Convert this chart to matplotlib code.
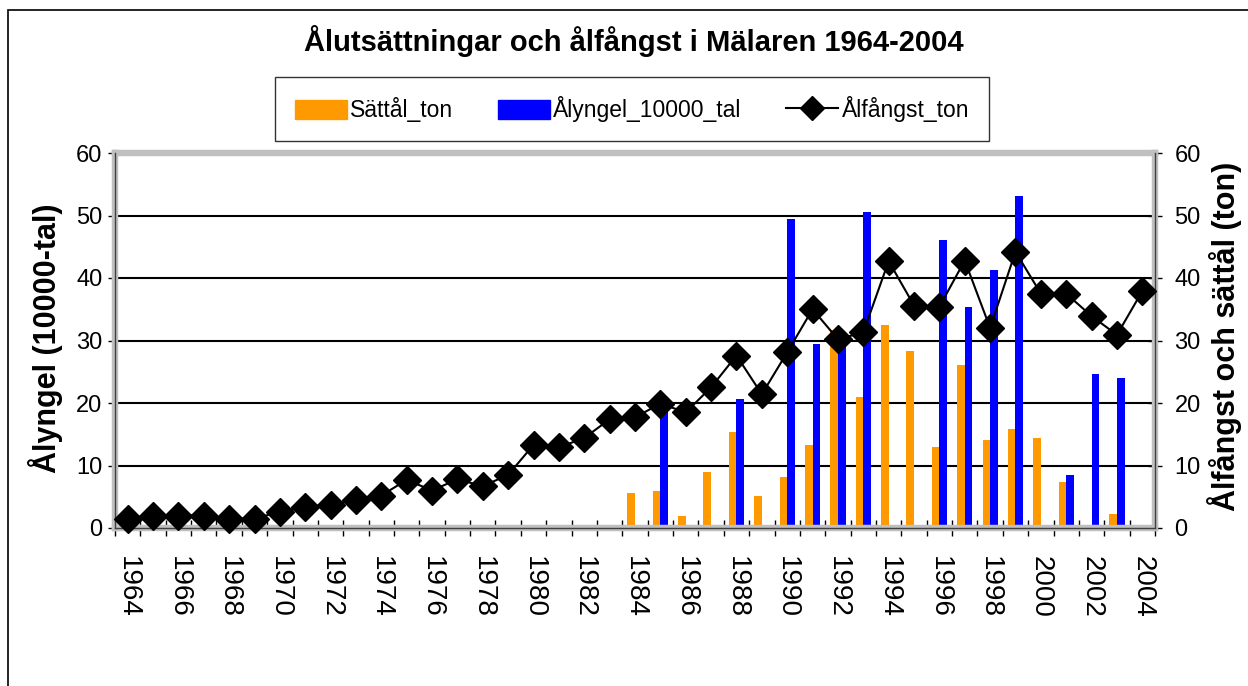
import numpy as np
import matplotlib
matplotlib.use("Agg")
import matplotlib.pyplot as plt
from matplotlib.lines import Line2D
from matplotlib.patches import Patch, Rectangle

plt.rcParams['font.family'] = ['Liberation Sans', 'DejaVu Sans']

years = list(range(1964, 2005))

# Ålfångst_ton (right axis, line)
falangst = [1.5, 2.0, 2.0, 2.0, 1.5, 1.5, 2.6, 3.4, 3.7, 4.5,
            5.2, 7.7, 6.0, 7.8, 6.7, 8.5, 13.3, 12.9, 14.4, 17.4,
            17.7, 19.9, 18.5, 22.5, 27.6, 21.4, 28.1, 35.0, 30.2, 31.3,
            42.7, 35.6, 35.4, 42.8, 32.0, 44.2, 37.5, 37.5, 33.9, 30.9,
            37.9]

# Sättål_ton (right axis, orange bars)
sattal = [0, 0, 0, 0, 0, 0, 0, 0, 0, 0,
          0, 0, 0, 0, 0, 0, 0, 0, 0, 0,
          5.65, 6.0, 2.0, 9.0, 15.3, 5.1, 8.2, 13.3, 31.7, 21.0,
          32.5, 28.4, 13.0, 26.1, 14.1, 15.8, 14.4, 7.4, 0, 2.2,
          0]

# Ålyngel_10000_tal (left axis, blue bars)
yngel = [0, 0, 0, 0, 0, 0, 0, 0, 0, 0,
         0, 0, 0, 0, 0, 0, 0, 0, 0, 0,
         0, 19.4, 0, 0, 20.6, 0, 49.5, 29.4, 30.0, 50.5,
         0, 0, 46.1, 35.4, 41.3, 53.1, 0, 8.5, 24.6, 24.0,
         0]

ORANGE = '#ff9900'
BLUE = '#0000ff'
GRAY = '#c0c0c0'
FS = 17

W, H = 1248, 686
fig = plt.figure(figsize=(W / 100, H / 100), dpi=100)

# plot area in pixels
L, R, T, B = 115, 1155, 153, 528
ax = fig.add_axes([L / W, 1 - B / H, (R - L) / W, (B - T) / H])
ax2 = ax.twinx()

x = np.arange(len(years))
bw = 0.3

ax.bar(x, yngel, width=bw, align='edge', color=BLUE, zorder=2)
ax2.bar(x - bw, sattal, width=bw, align='edge', color=ORANGE, zorder=2)
ax2.plot(x, falangst, color='black', lw=1.5, marker='D', markersize=14,
         zorder=3, clip_on=False)

for a in (ax, ax2):
    a.set_ylim(0, 60)
    a.set_xlim(-0.5, len(years) - 0.5)
    for s in a.spines.values():
        s.set_color(GRAY)
        s.set_linewidth(4.5)

ax.set_axisbelow(True)
ax.set_yticks(range(0, 61, 10))
ax.grid(axis='y', color='black', lw=1.5)
ax.tick_params(axis='y', direction='out', length=5, width=1, labelsize=FS, pad=4)
ax2.set_yticks(range(0, 61, 10))
ax2.tick_params(axis='y', direction='inout', length=10, width=1, labelsize=FS, pad=9)

# thin dark axis lines on the gray frame
for xv in (-0.5, len(years) - 0.5):
    ax2.axvline(xv, color='#404040', lw=1, clip_on=False, zorder=2.6)
ax2.axhline(0, color='#404040', lw=1, clip_on=False, zorder=2.6)

ax.set_xticks(x[::2])
ax.set_xticklabels([str(y) for y in years[::2]], rotation=270, fontsize=20)
ax.tick_params(axis='x', which='major', length=0, pad=20)
ax.set_xticks(np.arange(-0.5, len(years), 1), minor=True)
ax.tick_params(axis='x', which='minor', direction='inout', length=12, width=1)

fig.text(46 / W, 1 - 338 / H, 'Ålyngel (10000-tal)', rotation=90,
         ha='center', va='center', fontsize=22, fontweight='bold')
fig.text(1225 / W, 1 - 336 / H, 'Ålfångst och sättål (ton)', rotation=90,
         ha='center', va='center', fontsize=22, fontweight='bold')

fig.text(634 / W, 1 - 41 / H, 'Ålutsättningar och ålfångst i Mälaren 1964-2004',
         ha='center', va='center', fontsize=21, fontweight='bold')

handles = [Patch(color=ORANGE, label='Sättål_ton'),
           Patch(color=BLUE, label='Ålyngel_10000_tal'),
           Line2D([], [], color='black', lw=1.5, marker='D', markersize=12,
                  label='Ålfångst_ton')]
leg = fig.legend(handles=handles, loc='center', ncol=3,
                 bbox_to_anchor=(632 / W, 1 - 109 / H), fontsize=16.5,
                 frameon=True, fancybox=False, edgecolor='black',
                 handlelength=2.27, handleheight=0.9, handletextpad=0.15,
                 columnspacing=1.95, borderpad=0.85)
leg.get_frame().set_linewidth(1)

# chart area border (runs off the right and bottom edges)
fig.patches.append(Rectangle((8 / W, -0.1), 1.2, 1 - 10 / H + 0.1,
                             transform=fig.transFigure, fill=False,
                             edgecolor='black', lw=1.2))

fig.savefig('out.png', dpi=100)
